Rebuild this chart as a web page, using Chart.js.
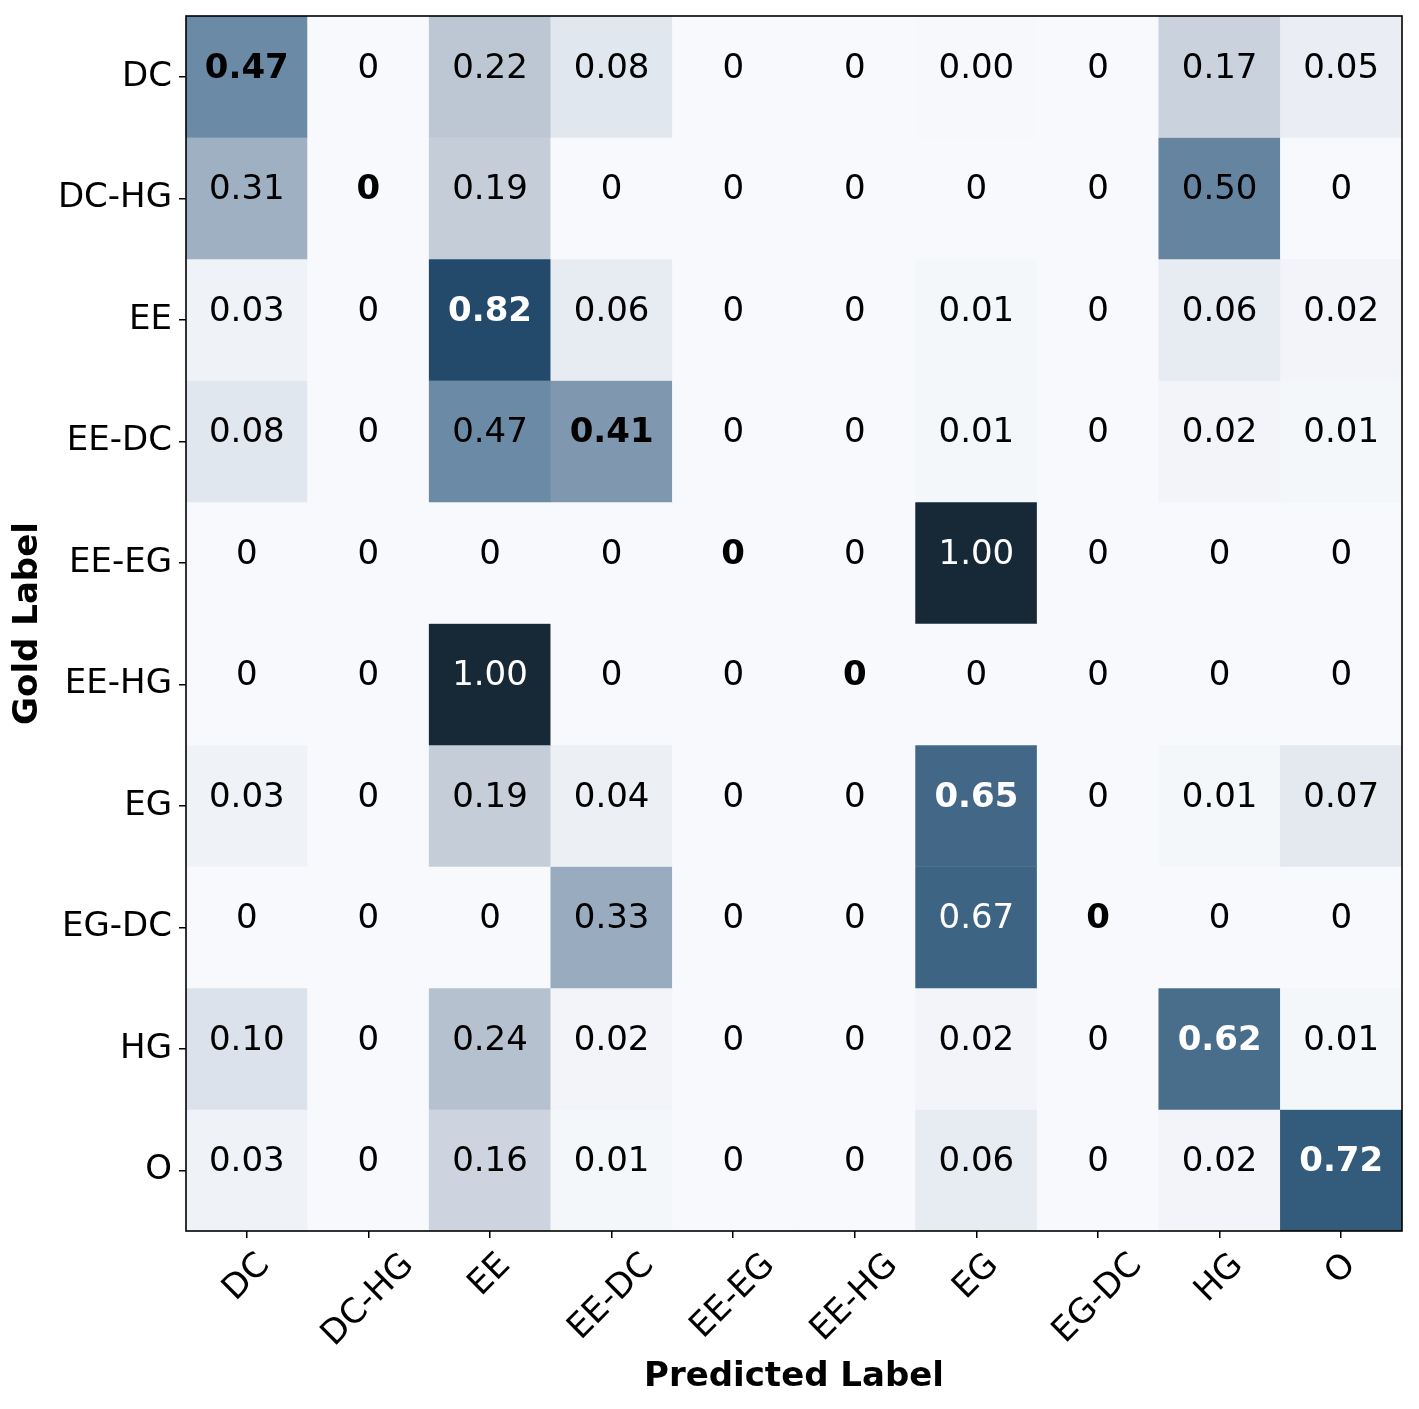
<!DOCTYPE html>
<html>
<head>
<meta charset="utf-8">
<script src="https://cdn.jsdelivr.net/npm/chart.js@4.4.0/dist/chart.umd.min.js"></script>
<style>
  html, body { margin: 0; padding: 0; background: #fff; }
  #wrap { width: 1419px; height: 1409px; position: relative; }
</style>
</head>
<body>
<div id="wrap"><canvas id="cm"></canvas></div>
<script>
// Labels (gold = rows, predicted = columns)
const goldLabels = ['DC', 'DC-HG', 'EE', 'EE-DC', 'EE-EG', 'EE-HG', 'EG', 'EG-DC', 'HG', 'O'];
const predLabels = ['DC', 'DC-HG', 'EE', 'EE-DC', 'EE-EG', 'EE-HG', 'EG', 'EG-DC', 'HG', 'O'];

// One row per gold label
const rowDC   = [0.47, 0, 0.22, 0.08, 0, 0, 0.004, 0, 0.17, 0.05];
const rowDCHG = [0.31, 0, 0.19, 0,    0, 0, 0,     0, 0.50, 0];
const rowEE   = [0.03, 0, 0.82, 0.06, 0, 0, 0.01,  0, 0.06, 0.02];
const rowEEDC = [0.08, 0, 0.47, 0.41, 0, 0, 0.01,  0, 0.02, 0.01];
const rowEEEG = [0,    0, 0,    0,    0, 0, 1.00,  0, 0,    0];
const rowEEHG = [0,    0, 1.00, 0,    0, 0, 0,     0, 0,    0];
const rowEG   = [0.03, 0, 0.19, 0.04, 0, 0, 0.65,  0, 0.01, 0.07];
const rowEGDC = [0,    0, 0,    0.33, 0, 0, 0.67,  0, 0,    0];
const rowHG   = [0.10, 0, 0.24, 0.02, 0, 0, 0.02,  0, 0.62, 0.01];
const rowO    = [0.03, 0, 0.16, 0.01, 0, 0, 0.06,  0, 0.02, 0.72];

const matrix = [rowDC, rowDCHG, rowEE, rowEEDC, rowEEEG, rowEEHG, rowEG, rowEGDC, rowHG, rowO];

// colour map, light grey-blue to dark navy
const cmapStops = [
  [0.00, [247, 249, 252]],
  [0.10, [220, 226, 235]],
  [0.22, [189, 198, 211]],
  [0.47, [107, 138, 165]],
  [0.72, [51, 91, 124]],
  [0.82, [35, 74, 107]],
  [1.00, [23, 40, 54]]
];

function cmap(v) {
  for (let k = 1; k < cmapStops.length; k++) {
    const [v1, c1] = cmapStops[k];
    if (v <= v1) {
      const [v0, c0] = cmapStops[k - 1];
      const t = (v - v0) / (v1 - v0);
      const c = c0.map((a, n) => Math.round(a + (c1[n] - a) * t));
      return 'rgb(' + c.join(',') + ')';
    }
  }
  return 'rgb(' + cmapStops[cmapStops.length - 1][1].join(',') + ')';
}

function fmt(v) {
  return v === 0 ? '0' : v.toFixed(2);
}

const FONT = '"DejaVu Sans", sans-serif';

// one dataset per row; each bar floats over its own row band
const datasets = matrix.map(function(row, i) {
  return {
    label: goldLabels[i],
    data: row.map(function() { return [i - 0.5, i + 0.5]; }),
    backgroundColor: row.map(cmap),
    borderWidth: 0,
    barPercentage: 1,
    categoryPercentage: 1,
    grouped: false
  };
});

// cell numbers, frame and rotated x labels
const heatText = {
  id: 'heatText',
  afterDatasetsDraw(chart) {
    const ctx = chart.ctx;
    const x = chart.scales.x;
    const y = chart.scales.y;
    ctx.save();
    ctx.textAlign = 'center';
    ctx.textBaseline = 'alphabetic';
    matrix.forEach(function(row, i) {
      row.forEach(function(v, j) {
        ctx.font = (i === j ? 'bold ' : '') + '34px ' + FONT;
        ctx.fillStyle = v > 0.55 ? '#ffffff' : '#000000';
        ctx.fillText(fmt(v), x.getPixelForValue(j), y.getPixelForValue(i) + 1);
      });
    });
    ctx.restore();
  },
  afterDraw(chart) {
    const ctx = chart.ctx;
    const a = chart.chartArea;
    const x = chart.scales.x;
    ctx.save();
    ctx.strokeStyle = '#000';
    ctx.lineWidth = 1.6;
    ctx.strokeRect(a.left, a.top, a.right - a.left, a.bottom - a.top);

    ctx.font = '34px ' + FONT;
    ctx.fillStyle = '#000';
    ctx.textAlign = 'center';
    ctx.textBaseline = 'middle';
    predLabels.forEach(function(lab, j) {
      const w = ctx.measureText(lab).width;
      const half = (w + 34) * Math.SQRT1_2 / 2;
      const cx = x.getPixelForValue(j);
      const cy = a.bottom + 17 + half;
      ctx.save();
      ctx.translate(cx, cy);
      ctx.rotate(-Math.PI / 4);
      ctx.fillText(lab, 0, 0);
      ctx.restore();
    });
    ctx.restore();
  }
};

new Chart(document.getElementById('cm'), {
  type: 'bar',
  data: { labels: predLabels, datasets: datasets },
  options: {
    responsive: true,
    maintainAspectRatio: false,
    animation: false,
    layout: { padding: { top: 16, right: 17, left: 0, bottom: 0 } },
    plugins: {
      legend: { display: false },
      tooltip: { enabled: false }
    },
    scales: {
      x: {
        type: 'category',
        offset: true,
        grid: { offset: false, drawOnChartArea: false, drawTicks: true, tickLength: 7, color: '#000', lineWidth: 1.5 },
        border: { display: false },
        ticks: { display: false },
        title: {
          display: true,
          text: 'Predicted Label',
          color: '#000',
          font: { family: FONT, size: 34, weight: 'bold' },
          padding: { top: 0, bottom: 11 }
        },
        afterFit(scale) {
          scale.height = 178;
          scale.paddingLeft = 0;
          scale.paddingRight = 0;
        }
      },
      y: {
        type: 'linear',
        min: -0.5,
        max: 9.5,
        reverse: true,
        grid: { drawOnChartArea: false, drawTicks: true, tickLength: 7, color: '#000', lineWidth: 1.5 },
        border: { display: false },
        afterBuildTicks(scale) {
          scale.ticks = goldLabels.map(function(_, i) { return { value: i }; });
        },
        ticks: {
          color: '#000',
          padding: 7,
          font: { family: FONT, size: 34 },
          callback: function(value) { return goldLabels[value]; }
        },
        title: {
          display: true,
          text: 'Gold Label',
          color: '#000',
          font: { family: FONT, size: 34, weight: 'bold' },
          padding: { top: 8, bottom: 0 }
        },
        afterFit(scale) {
          scale.width = 186;
          scale.paddingTop = 0;
          scale.paddingBottom = 0;
        }
      }
    }
  },
  plugins: [heatText]
});
</script>
</body>
</html>
